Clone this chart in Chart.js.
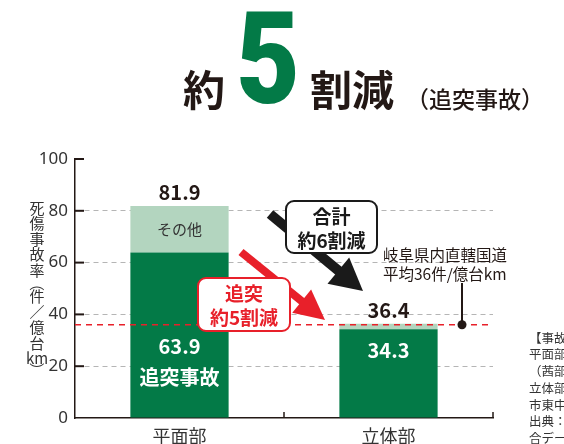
<!DOCTYPE html>
<html><head><meta charset="utf-8">
<script src="https://cdn.jsdelivr.net/npm/chart.js@4"></script>
<style>html,body{margin:0;padding:0;background:#fff;overflow:hidden}#wrap{width:564px;height:444px;position:relative}</style>
</head><body><div id="wrap"><canvas id="c" width="564" height="444"></canvas></div>
<script>
const categories = ['平面部', '立体部'];
const rearEndCollision = [63.9, 34.3];
const otherAccidents = [18.0, 2.1];
const totals = [81.9, 36.4];
const prefectureAverage = 36;
const yTicks = [0, 20, 40, 60, 80, 100];
const yTitleChars = ['死','傷','事','故','率','（','件','／','億','台','km','）'];
const noteLines = ['【事故件数の算出】', '平面部：岐阜市', '（茜部）', '立体部：岐阜', '市東中島', '出典：交通事故統', '合データ'];

const DARK = '#231815', GREEN = '#037a47', LIGHT = '#b3d5bf', RED = '#e8202a';
const JP = '"Noto Sans CJK JP", "Noto Sans", sans-serif';

function arrow(ctx, x1, y1, x2, y2, w, hl, hw, color) {
  const a = Math.atan2(y2 - y1, x2 - x1), c = Math.cos(a), s = Math.sin(a);
  const bx = x2 - hl * c, by = y2 - hl * s;
  ctx.save();
  ctx.strokeStyle = color; ctx.fillStyle = color; ctx.lineWidth = w; ctx.lineCap = 'butt';
  ctx.beginPath(); ctx.moveTo(x1, y1); ctx.lineTo(bx + c * 2, by + s * 2); ctx.stroke();
  ctx.beginPath(); ctx.moveTo(x2, y2); ctx.lineTo(bx - hw * s, by + hw * c); ctx.lineTo(bx + hw * s, by - hw * c); ctx.closePath(); ctx.fill();
  ctx.restore();
}
function box(ctx, x, y, w, h, r, color, lines, font) {
  ctx.save();
  ctx.beginPath(); ctx.roundRect(x, y, w, h, r);
  ctx.fillStyle = '#fff'; ctx.fill();
  ctx.lineWidth = 2; ctx.strokeStyle = color; ctx.stroke();
  ctx.fillStyle = color; ctx.font = font; ctx.textAlign = 'center'; ctx.textBaseline = 'middle';
  lines.forEach((t, i) => ctx.fillText(t, x + w / 2, y + 16 + i * 24));
  ctx.restore();
}

const deco = {
  id: 'deco',
  afterDraw(chart) {
    const ctx = chart.ctx, ca = chart.chartArea, x = chart.scales.x, y = chart.scales.y;
    ctx.save();
    // ticks (inward)
    ctx.strokeStyle = DARK; ctx.lineWidth = 2;
    yTicks.forEach(v => { if (v === 0) return; const py = y.getPixelForValue(v); ctx.beginPath(); ctx.moveTo(ca.left, py); ctx.lineTo(ca.left + 9, py); ctx.stroke(); });
    ctx.lineWidth = 1.5;
    [1, 2].forEach(i => { const px = ca.left + (ca.right - ca.left) * i / categories.length; ctx.beginPath(); ctx.moveTo(px, ca.bottom); ctx.lineTo(px, ca.bottom - 6); ctx.stroke(); });

    // average line
    const ay = y.getPixelForValue(prefectureAverage);
    ctx.strokeStyle = RED; ctx.lineWidth = 1.5; ctx.setLineDash([6, 5]);
    ctx.beginPath(); ctx.moveTo(ca.left, ay); ctx.lineTo(ca.right, ay); ctx.stroke();
    ctx.setLineDash([]);
    // leader + dot
    ctx.strokeStyle = DARK; ctx.lineWidth = 2;
    ctx.beginPath(); ctx.moveTo(462, 283); ctx.lineTo(462, ay); ctx.stroke();
    ctx.fillStyle = DARK; ctx.beginPath(); ctx.arc(462, ay, 4.5, 0, Math.PI * 2); ctx.fill();
    ctx.font = '15.5px ' + JP; ctx.textAlign = 'left'; ctx.textBaseline = 'middle';
    ctx.fillText('岐阜県内直轄国道', 383, 255);
    ctx.fillText('平均' + prefectureAverage + '件/億台km', 383, 274);

    // bar labels
    ctx.textAlign = 'center';
    const inY = [346, 350];
    categories.forEach((c, i) => {
      const px = x.getPixelForValue(i);
      ctx.fillStyle = DARK; ctx.font = 'bold 20px ' + JP;
      ctx.fillText(totals[i].toFixed(1), px, y.getPixelForValue(totals[i]) - 13);
      ctx.fillStyle = '#fff';
      ctx.fillText(rearEndCollision[i].toFixed(1), px, inY[i]);
    });
    const p0 = x.getPixelForValue(0);
    ctx.fillStyle = '#fff'; ctx.font = 'bold 20px ' + JP;
    ctx.fillText('追突事故', p0, 377);
    ctx.fillStyle = '#333'; ctx.font = '15px ' + JP;
    ctx.fillText('その他', p0, y.getPixelForValue(rearEndCollision[0] + otherAccidents[0] / 2));

    // arrows & boxes
    arrow(ctx, 270, 214, 363, 291, 10, 32, 17, '#1a1a1a');
    box(ctx, 286, 201, 91, 52, 8, '#1a1a1a', ['合計', '約6割減'], 'bold 19px ' + JP);
    arrow(ctx, 241, 252, 325, 320, 8, 30, 15, RED);
    box(ctx, 198, 278, 92, 53, 8, RED, ['追突', '約5割減'], 'bold 19px ' + JP);

    // y title vertical
    ctx.fillStyle = '#333'; ctx.font = '15px ' + JP; ctx.textAlign = 'center'; ctx.textBaseline = 'middle';
    let ty = 208;
    yTitleChars.forEach(ch => {
      const paren = ch === '（' || ch === '）';
      if (paren) {
        ty += (ch === '（' ? -2 : -4);
        ctx.save(); ctx.translate(37, ty); ctx.rotate(Math.PI / 2); ctx.fillText(ch, 0, 0); ctx.restore();
        ty += (ch === '（' ? 13 : 10);
      } else {
        ctx.fillText(ch, 37, ty);
        ty += 15.5;
      }
    });

    // title
    ctx.fillStyle = DARK; ctx.textAlign = 'left'; ctx.textBaseline = 'middle';
    ctx.font = 'bold 42px ' + JP;
    ctx.fillText('約', 183, 90);
    ctx.fillText('割減', 310, 90);
    ctx.font = '500 23px ' + JP;
    ctx.fillText('（追突事故）', 406, 99);
    ctx.save(); ctx.fillStyle = GREEN; ctx.textBaseline = 'alphabetic';
    ctx.translate(236, 103); ctx.scale(0.86, 1);
    ctx.font = '900 128px Roboto, "Liberation Sans", sans-serif';
    ctx.fillText('5', 0, 0); ctx.restore();

    // side note
    ctx.fillStyle = '#333'; ctx.font = '12.5px ' + JP; ctx.textAlign = 'left';
    noteLines.forEach((t, i) => ctx.fillText(t, 529, 338 + i * 16.7));
    ctx.restore();
  }
};

new Chart(document.getElementById('c'), {
  type: 'bar',
  data: {
    labels: categories,
    datasets: [
      { label: '追突事故', data: rearEndCollision, backgroundColor: GREEN, barPercentage: 0.47, categoryPercentage: 1 },
      { label: 'その他', data: otherAccidents, backgroundColor: LIGHT, barPercentage: 0.47, categoryPercentage: 1 }
    ]
  },
  options: {
    responsive: false, animation: false, devicePixelRatio: 1,
    layout: { padding: { left: 0, top: 159, right: 71, bottom: 0 } },
    plugins: { legend: { display: false }, tooltip: { enabled: false } },
    scales: {
      x: {
        stacked: true,
        grid: { color: 'rgba(0,0,0,0)', drawTicks: false },
        border: { display: true, color: DARK, width: 1.5 },
        ticks: { color: '#333', font: { size: 18, family: JP }, padding: 7 },
        afterFit: s => { s.height = 26; }
      },
      y: {
        stacked: true, min: 0, max: 100,
        afterBuildTicks: s => { s.ticks = yTicks.map(v => ({ value: v })); },
        grid: { color: c => (c.tick && c.tick.value > 0 && c.tick.value < 100) ? '#b5b5b5' : 'rgba(0,0,0,0)', drawTicks: false, lineWidth: 1 },
        border: { display: true, color: DARK, width: 1.5, dash: [5, 4] },
        ticks: { color: '#333', font: { size: 17, family: '"Noto Sans", sans-serif' }, padding: 7 },
        afterFit: s => { s.width = 75; }
      }
    }
  },
  plugins: [deco]
});
</script></body></html>
